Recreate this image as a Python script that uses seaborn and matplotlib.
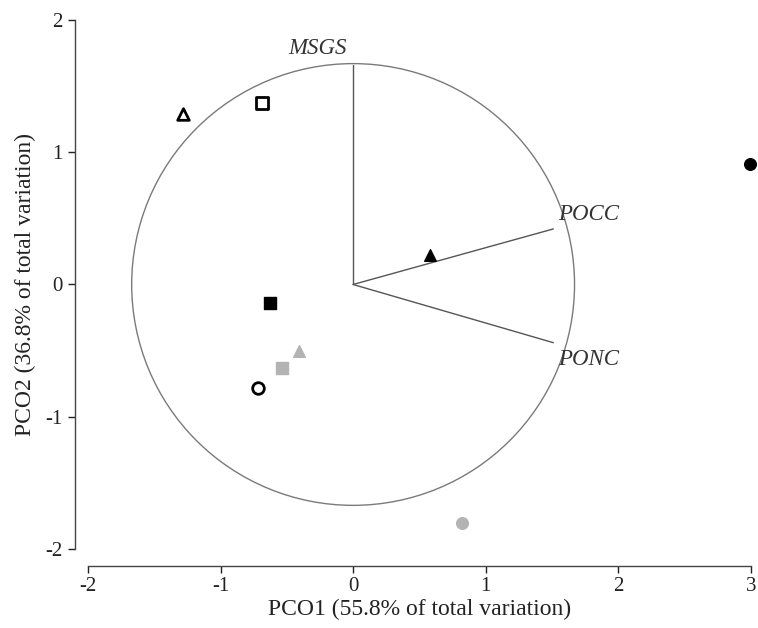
import matplotlib
matplotlib.use("Agg")
import matplotlib.pyplot as plt
import seaborn as sns
import pandas as pd
from matplotlib.patches import Circle

# ---- data ----
pco1 = [-1.28, -0.69, 2.99, 0.58, -0.63, -0.41, -0.54, -0.72, 0.82]
pco2 = [1.29, 1.37, 0.91, 0.22, -0.14, -0.50, -0.63, -0.78, -1.80]
shapes = ["^", "s", "o", "^", "s", "^", "s", "o", "o"]
fills = ["open", "open", "black", "black", "black", "grey", "grey", "open", "grey"]

vec_names = ["MSGS", "POCC", "PONC"]
vec_x = [0.0, 1.51, 1.51]
vec_y = [1.66, 0.42, -0.44]
circle_radius = 1.67

x_ticks = [-2, -1, 0, 1, 2, 3]
y_ticks = [-2, -1, 0, 1, 2]
x_label = "PCO1 (55.8% of total variation)"
y_label = "PCO2 (36.8% of total variation)"

df = pd.DataFrame({"x": pco1, "y": pco2, "shape": shapes, "fill": fills})

# ---- style ----
sns.set_style("ticks")
plt.rcParams["font.family"] = ["Liberation Serif", "DejaVu Serif"]

fig = plt.figure(figsize=(7.58, 6.28), dpi=100)
ax = fig.add_axes([0.1160, 0.1258, 0.8746, 0.8424])

ax.add_patch(Circle((0, 0), circle_radius, fill=False, edgecolor="#7a7a7a", linewidth=1.0))

for name, vx, vy in zip(vec_names, vec_x, vec_y):
    ax.plot([0, vx], [0, vy], color="#555555", linewidth=1.0)

txt_kw = dict(style="italic", fontsize=16.5, color="#333333")
ax.text(vec_x[0] - 0.05, vec_y[0] + 0.08, vec_names[0], ha="right", va="baseline", **txt_kw)
ax.text(vec_x[1] + 0.04, vec_y[1] + 0.11, vec_names[1], ha="left", va="center", **txt_kw)
ax.text(vec_x[2] + 0.04, vec_y[2] - 0.13, vec_names[2], ha="left", va="center", **txt_kw)

fill_style = {
    "open": dict(facecolor="white", edgecolor="black", linewidth=2.0),
    "black": dict(facecolor="black", edgecolor="black", linewidth=1.0),
    "grey": dict(facecolor="#b3b3b3", edgecolor="#b3b3b3", linewidth=1.0),
}
for (shp, fl), sub in df.groupby(["shape", "fill"]):
    st = fill_style[fl]
    sns.scatterplot(data=sub, x="x", y="y", marker=shp, s=70, ax=ax,
                    color=st["facecolor"], edgecolor=st["edgecolor"],
                    linewidth=st["linewidth"], zorder=5, legend=False,
                    clip_on=False)

ax.set_xlim(-2, 3)
ax.set_ylim(-2, 2)
ax.set_xticks(x_ticks)
ax.set_yticks(y_ticks)
ax.set_xticklabels([str(t) for t in x_ticks])
ax.set_yticklabels([str(t) for t in y_ticks])
ax.set_xlabel(x_label, fontsize=17, color="#222222", labelpad=2)
ax.set_ylabel(y_label, fontsize=17, color="#222222", labelpad=7)
ax.tick_params(axis="both", labelsize=15, colors="#222222", length=5, width=1, direction="out")
for sp in ax.spines.values():
    sp.set_color("#444444")
    sp.set_linewidth(1.0)

sns.despine(ax=ax, offset={"left": 9.5, "bottom": 12}, trim=True)

fig.savefig("out.png", dpi=100)
